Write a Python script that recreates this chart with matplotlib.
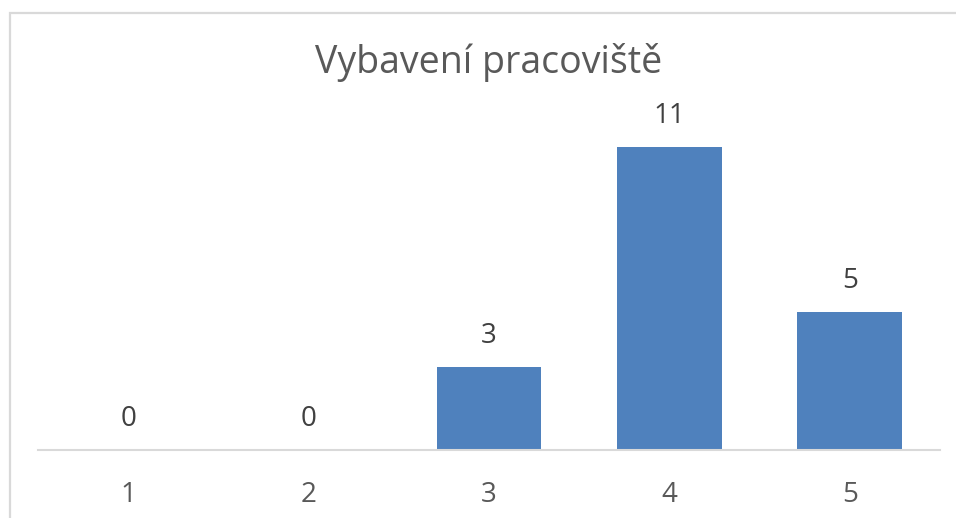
import matplotlib
matplotlib.use("Agg")
import matplotlib.pyplot as plt
from matplotlib.patches import Rectangle

# data
categories = ["1", "2", "3", "4", "5"]
counts = [0, 0, 3, 11, 5]

TITLE = "Vybavení pracoviště"
BAR_COLOR = "#4f81bd"
TEXT_GRAY = "#595959"
LINE_GRAY = "#d9d9d9"

plt.rcParams["font.family"] = ["Open Sans", "DejaVu Sans"]

W, H = 956, 518
fig = plt.figure(figsize=(W / 100, H / 100), dpi=100)
fig.patch.set_facecolor("white")

# chart-area frame (only left/top edges visible, the rest is cropped)
fig.add_artist(Rectangle((9.5 / W, -0.1), 1.2, (H - 13.5) / H + 0.1,
                         transform=fig.transFigure, fill=False,
                         edgecolor=LINE_GRAY, linewidth=1.6))

ax = fig.add_axes([38 / W, (H - 450) / H, (940 - 38) / W, (450 - 119.5) / H])
x = range(len(categories))
bars = ax.bar(x, counts, width=0.58, color=BAR_COLOR, zorder=2)

ax.set_xlim(-0.5, len(categories) - 0.5)
ax.set_ylim(0, 12)
for side in ["left", "right", "top"]:
    ax.spines[side].set_visible(False)
ax.spines["bottom"].set_color(LINE_GRAY)
ax.spines["bottom"].set_linewidth(1.5)
ax.set_yticks([])
ax.set_xticks(list(x))
ax.set_xticklabels(categories, fontsize=20, color=TEXT_GRAY)
ax.tick_params(axis="x", length=0, pad=22)

for b, v in zip(bars, counts):
    ax.annotate(str(v), (b.get_x() + b.get_width() / 2, v),
                xytext=(0, 22.5), textcoords="offset points",
                ha="center", va="center", fontsize=20, color="#404040")

fig.text(489 / W, 1 - 63 / H, TITLE, ha="center", va="center",
         fontsize=27, color=TEXT_GRAY)

fig.savefig("out.png", dpi=100)
